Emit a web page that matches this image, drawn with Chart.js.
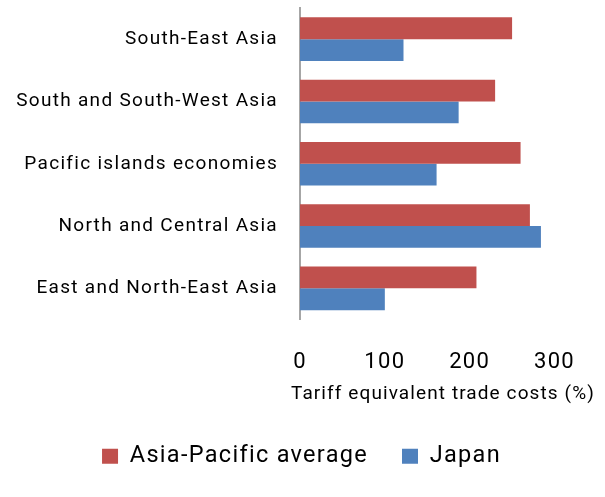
<!DOCTYPE html>
<html lang="en">
<head>
    <meta charset="UTF-8">
    <title>Tariff equivalent trade costs</title>
    <script src="https://cdn.jsdelivr.net/npm/chart.js"></script>
    <style>
        html, body {
            margin: 0;
            padding: 0;
            background: #fff;
        }
        .chart-box {
            width: 605px;
            height: 497px;
        }
    </style>
</head>
<body>
    <div class="chart-box">
        <canvas id="tradeChart"></canvas>
    </div>

    <script>
        const regions = ['South-East Asia', 'South and South-West Asia', 'Pacific islands economies', 'North and Central Asia', 'East and North-East Asia'];
        const asiaPacificAverage = [250, 230, 260, 271, 208];
        const japan = [122, 187, 161, 284, 100];
        const xTicks = [0, 100, 200, 300];
        const xTitle = 'Tariff equivalent trade costs (%)';

        const fontFamily = 'Roboto, "DejaVu Sans", sans-serif';

        // canvas letter spacing gets reset on resize, so set it every update/draw
        const spacing = {
            id: 'spacing',
            beforeUpdate(chart) { chart.ctx.letterSpacing = '1.3px'; },
            beforeDraw(chart) { chart.ctx.letterSpacing = '1.3px'; },
            afterLayout(chart) {
                // legend centring counts the trailing padding, nudge it back
                chart.legend.left += 17;
                chart.legend.right += 17;
                chart.legend.top -= 2;
                chart.legend.bottom -= 2;
            }
        };

        // axis title is wider than the axis, the built-in one gets squeezed
        const wideTitle = {
            id: 'wideTitle',
            afterDraw(chart) {
                const c = chart.ctx;
                const x = chart.scales.x;
                c.save();
                c.letterSpacing = '1.1px';
                c.font = '19px ' + fontFamily;
                c.fillStyle = '#000';
                c.textAlign = 'left';
                c.textBaseline = 'middle';
                c.fillText(xTitle, x.left - 9, x.top + 75);
                c.restore();
            }
        };

        const ctx = document.getElementById('tradeChart').getContext('2d');
        const tradeChart = new Chart(ctx, {
            type: 'bar',
            data: {
                labels: regions,
                datasets: [{
                    label: 'Asia-Pacific average',
                    data: asiaPacificAverage,
                    backgroundColor: '#C0504D'
                }, {
                    label: 'Japan',
                    data: japan,
                    backgroundColor: '#4F81BD'
                }]
            },
            options: {
                indexAxis: 'y',
                responsive: true,
                maintainAspectRatio: false,
                animation: false,
                layout: {
                    padding: { top: 8, right: 36, bottom: 17, left: 0 }
                },
                datasets: {
                    bar: {
                        categoryPercentage: 0.7,
                        barPercentage: 1.0
                    }
                },
                scales: {
                    x: {
                        min: 0,
                        max: 300,
                        afterBuildTicks(scale) {
                            scale.ticks = xTicks.map(v => ({ value: v }));
                        },
                        afterFit(scale) { scale.height = 93; },
                        grid: { display: false, drawTicks: false },
                        border: { display: false },
                        ticks: {
                            padding: 30,
                            color: '#000',
                            font: { family: fontFamily, size: 22 }
                        }
                    },
                    y: {
                        afterFit(scale) {
                            scale.width = 300;
                            scale.paddingTop = 0;
                            scale.paddingBottom = 0;
                        },
                        grid: { display: false, drawTicks: false },
                        border: { display: true, color: '#A6A6A6', width: 2 },
                        ticks: {
                            padding: 22,
                            color: '#000',
                            font: { family: fontFamily, size: 19 }
                        }
                    }
                },
                plugins: {
                    legend: {
                        position: 'bottom',
                        labels: {
                            color: '#000',
                            boxWidth: 16,
                            boxHeight: 15,
                            padding: 34,
                            font: { family: fontFamily, size: 23.5 }
                        }
                    },
                    tooltip: { enabled: false }
                }
            },
            plugins: [spacing, wideTitle]
        });
    </script>
</body>
</html>
